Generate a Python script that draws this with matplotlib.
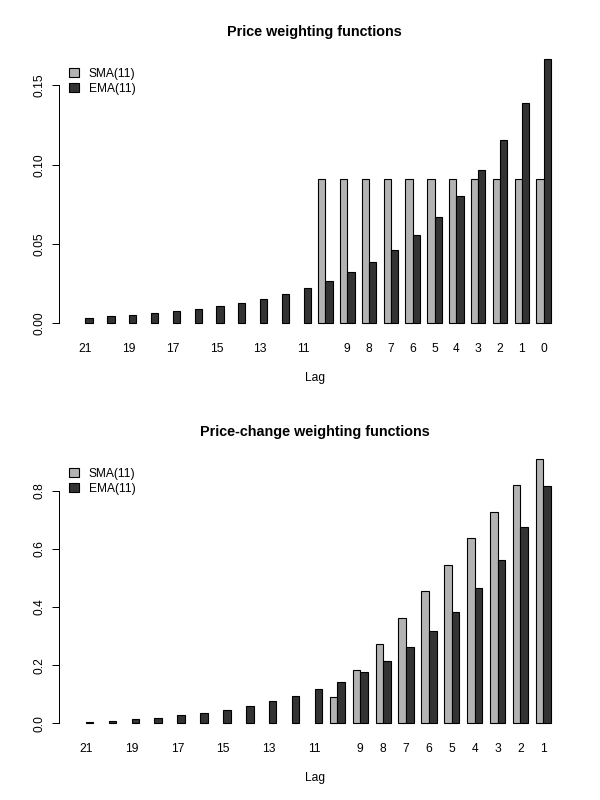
import numpy as np
import matplotlib.pyplot as plt

plt.rcParams['font.family'] = ['Liberation Sans', 'DejaVu Sans']

# lags shown left to right
price_lags = list(range(21, -1, -1))
change_lags = list(range(21, 0, -1))

# price weights (None = no bar)
sma_price = [None] * 11 + [0.0909] * 11
ema_price = [0.0036, 0.0043, 0.0052, 0.0063, 0.0075, 0.0090, 0.0108, 0.0130,
             0.0156, 0.0187, 0.0224, 0.0269, 0.0323, 0.0388, 0.0465, 0.0558,
             0.0670, 0.0804, 0.0965, 0.1157, 0.1389, 0.1667]

# price-change weights
sma_change = [None] * 11 + [0.0909, 0.1818, 0.2727, 0.3636, 0.4545, 0.5455,
                            0.6364, 0.7273, 0.8182, 0.9091]
ema_change = [0.0036, 0.0080, 0.0132, 0.0195, 0.0270, 0.0360, 0.0468, 0.0598,
              0.0754, 0.0941, 0.1165, 0.1434, 0.1757, 0.2145, 0.2610, 0.3168,
              0.3838, 0.4642, 0.5606, 0.6763, 0.8152]

# tick labels R kept (others dropped for overlap)
price_labels_shown = [21, 19, 17, 15, 13, 11, 9, 8, 7, 6, 5, 4, 3, 2, 1, 0]
change_labels_shown = [21, 19, 17, 15, 13, 11, 9, 8, 7, 6, 5, 4, 3, 2, 1]

price_yticks = [0.00, 0.05, 0.10, 0.15]
price_yticklabels = ['0.00', '0.05', '0.10', '0.15']
change_yticks = [0.0, 0.2, 0.4, 0.6, 0.8]
change_yticklabels = ['0.0', '0.2', '0.4', '0.6', '0.8']

SMA_COL = '#b3b3b3'
EMA_COL = '#333333'
FS = 8.64  # 12 px at 100 dpi

W, H = 600, 800


def panel(ax, lags, sma, ema, shown, yticks, yticklabels, title, top_px):
    n = len(lags)
    grp = np.arange(n) * 3 + 2
    sma = np.array([np.nan if v is None else v for v in sma], dtype=float)
    ema = np.array(ema, dtype=float)

    ok = ~np.isnan(sma)
    b1 = ax.bar(grp[ok] - 0.5, sma[ok], width=1, color=SMA_COL,
                edgecolor='black', linewidth=0.8, label='SMA(11)')
    b2 = ax.bar(grp + 0.5, ema, width=1, color=EMA_COL,
                edgecolor='black', linewidth=0.8, label='EMA(11)')

    # R style limits
    lo, hi = 1, 3 * n
    ax.set_xlim(lo - 0.04 * (hi - lo), hi + 0.04 * (hi - lo))
    ymax = np.nanmax(np.concatenate([sma, ema]))
    ylo, yhi = -0.01 * ymax, ymax
    ax.set_ylim(ylo - 0.04 * (yhi - ylo), yhi + 0.04 * (yhi - ylo))

    ax.set_xticks(grp)
    ax.set_xticklabels([str(l) if l in shown else '' for l in lags], fontsize=FS)
    ax.tick_params(axis='x', length=0, pad=4.5)

    ax.set_yticks(yticks)
    ax.set_yticklabels(yticklabels, rotation=90, va='center', fontsize=FS)
    ax.tick_params(axis='y', length=5.2, width=0.72, pad=5)

    for s in ['top', 'right', 'bottom']:
        ax.spines[s].set_visible(False)
    ax.spines['left'].set_bounds(yticks[0], yticks[-1])
    ax.spines['left'].set_linewidth(0.72)

    xc = (59.3 + 569.8) / 2 / W
    fig.text(xc, 1 - (top_px - 12.0) / H, title, ha='center', va='baseline',
             fontsize=10.4, fontweight='bold')
    fig.text(xc, 1 - (top_px + 329.4) / H, 'Lag', ha='center', va='center',
             fontsize=FS)

    ax.legend(handles=[b1, b2], loc='upper left',
              bbox_to_anchor=(69.3 / W, 1 - (top_px + 19.5) / H),
              bbox_transform=fig.transFigure, frameon=False, fontsize=FS,
              borderpad=0, borderaxespad=0, handlelength=0.78,
              handleheight=0.78, handletextpad=0.86, labelspacing=0.28)


fig = plt.figure(figsize=(W / 100, H / 100), dpi=100)
ax1 = fig.add_axes([59.3 / W, 1 - 336.6 / H, 510.5 / W, 288.3 / H])
ax2 = fig.add_axes([59.3 / W, 1 - 736.6 / H, 510.5 / W, 288.3 / H])

panel(ax1, price_lags, sma_price, ema_price, price_labels_shown,
      price_yticks, price_yticklabels, 'Price weighting functions', 48.3)
panel(ax2, change_lags, sma_change, ema_change, change_labels_shown,
      change_yticks, change_yticklabels, 'Price-change weighting functions', 448.3)

plt.savefig('out.png', dpi=100)
